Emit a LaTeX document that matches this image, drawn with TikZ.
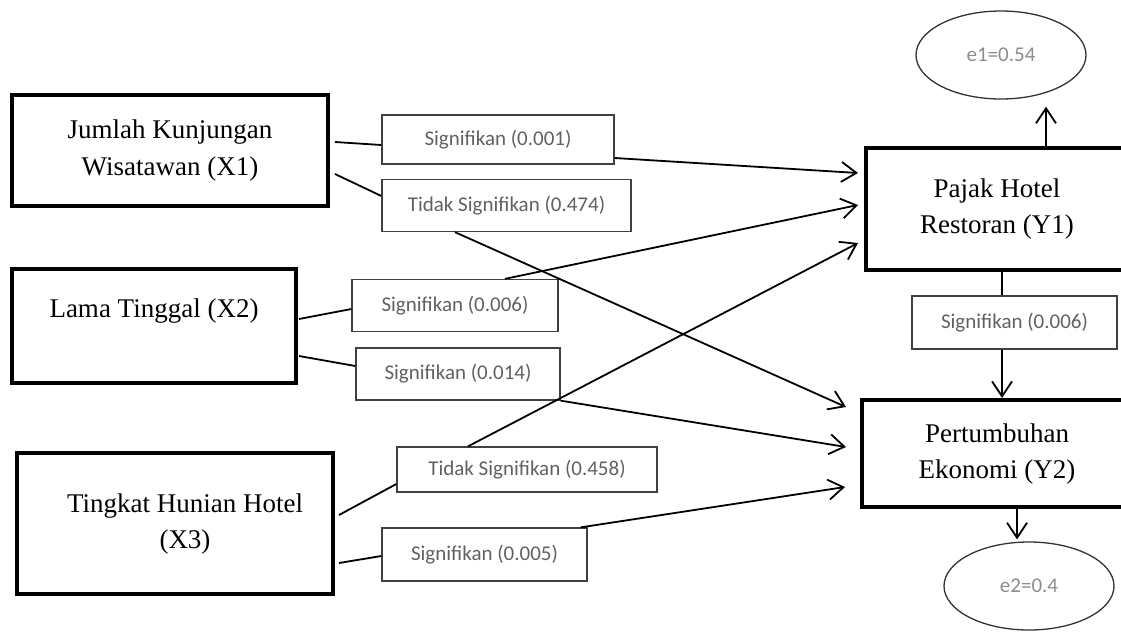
\documentclass[tikz,border=0pt]{standalone}
\usepackage{fontspec}
\setmainfont{Liberation Serif}
\newfontfamily\labelfont{Carlito}
\usetikzlibrary{arrows.meta, shapes.geometric}

\begin{document}
\begin{tikzpicture}[
  x=1pt, y=-1pt,
  varbox/.style={draw, line width=4pt, align=center, font=\fontsize{27}{36}\selectfont},
  sigbox/.style={draw=black!75, line width=1.3pt, align=center, text=black!62, font=\labelfont\fontsize{21}{25}\selectfont},
  errnode/.style={draw=black!80, ellipse, line width=1.3pt, inner sep=0pt, minimum width=170pt, minimum height=88pt, text=black!45, font=\labelfont\fontsize{21}{25}\selectfont},
  link/.style={line width=1.8pt},
  arrow/.style={link, -{Straight Barb[length=15pt, width=20pt]}}
]
\clip (0,0) rectangle (1121,633);
% exogenous variables
\node[varbox, minimum width=316pt, minimum height=111pt] (x1) at (170,150.5) {Jumlah Kunjungan\\Wisatawan (X1)};
\node[varbox, minimum width=284pt, minimum height=114pt] (x2) at (154,326) {Lama Tinggal (X2)\\\mbox{}};
\node[varbox, minimum width=316pt, minimum height=141pt] (x3) at (175,523.5) {\mbox{}\\[-16pt]\hspace*{20pt}Tingkat Hunian Hotel\\\hspace*{20pt}(X3)};
% endogenous variables
\node[varbox, minimum width=262pt, minimum height=122pt] (y1) at (997,209) {Pajak Hotel\\Restoran (Y1)};
\node[varbox, minimum width=270pt, minimum height=107pt] (y2) at (997,453.5) {Pertumbuhan\\Ekonomi (Y2)};
% errors
\node[errnode] (e1) at (1001,55) {e1=0.54};
\node[errnode] (e2) at (1029,586) {e2=0.4};
% path labels
\node[sigbox, minimum width=232pt, minimum height=49pt] (s1) at (498,139.5) {Signifikan (0.001)};
\node[sigbox, minimum width=249pt, minimum height=52pt] (s2) at (506.5,205.5) {Tidak Signifikan (0.474)};
\node[sigbox, minimum width=206pt, minimum height=52pt] (s3) at (455,305.5) {Signifikan (0.006)};
\node[sigbox, minimum width=204pt, minimum height=52pt] (s4) at (458,374) {Signifikan (0.014)};
\node[sigbox, minimum width=260pt, minimum height=45pt] (s5) at (527,469.5) {Tidak Signifikan (0.458)};
\node[sigbox, minimum width=205pt, minimum height=53pt] (s6) at (484.5,554.5) {Signifikan (0.005)};
\node[sigbox, minimum width=205pt, minimum height=53pt] (s7) at (1014.5,322.5) {Signifikan (0.006)};
% X1
\draw[link] ([shift={(5,-8.5)}]x1.east) -- ([shift={(0,5.5)}]s1.west);
\draw[link] ([shift={(5,23.5)}]x1.east) -- ([shift={(0,-9.5)}]s2.west);
\draw[arrow] ([shift={(0,18.5)}]s1.east) -- ([shift={(-6,-36)}]y1.west);
\draw[arrow] ([shift={(-51.5,0)}]s2.south) -- ([shift={(-14,-46.5)}]y2.west);
% X2
\draw[link] ([shift={(1,-7)}]x2.east) -- ([shift={(0,3.5)}]s3.west);
\draw[link] ([shift={(1,30)}]x2.east) -- ([shift={(0,-8)}]s4.west);
\draw[arrow] ([shift={(50,0)}]s3.north) -- ([shift={(-6,-4)}]y1.west);
\draw[arrow] (s4.south east) -- ([shift={(-14,-6.5)}]y2.west);
% X3
\draw[link] ([shift={(4,-8.5)}]x3.east) -- ([shift={(0,14.5)}]s5.west);
\draw[link] ([shift={(4,39.5)}]x3.east) -- ([shift={(0,1.5)}]s6.west);
\draw[arrow] ([shift={(-59,0)}]s5.north) -- ([shift={(-6,34)}]y1.west);
\draw[arrow] ([shift={(-7,0)}]s6.north east) -- ([shift={(-15,33.5)}]y2.west);
% Y1 -> Y2 and errors
\draw[link] ([shift={(5,0)}]y1.south) -- ([shift={(-12.5,0)}]s7.north);
\draw[arrow] ([shift={(-12.5,0)}]s7.south) -- ([shift={(5,0)}]y2.north);
\draw[arrow] ([shift={(49,0)}]y1.north) -- ([shift={(45,7)}]e1.south);
\draw[arrow] ([shift={(20,0)}]y2.south) -- ([shift={(-12,-2)}]e2.north);
\end{tikzpicture}
\end{document}
